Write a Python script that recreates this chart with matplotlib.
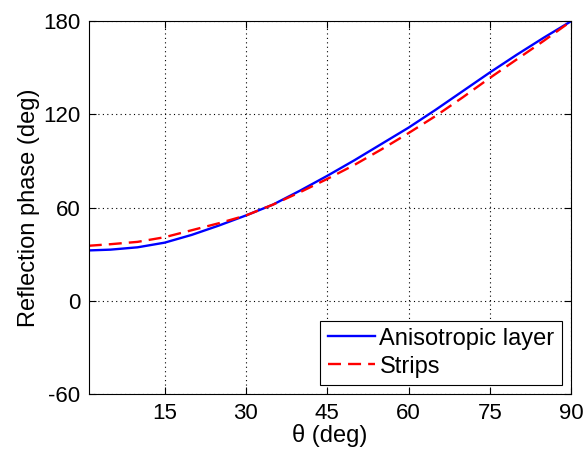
import matplotlib
matplotlib.use("Agg")
import matplotlib.pyplot as plt

theta = [1, 5, 10, 15, 20, 25, 30, 35, 40, 45, 50, 55, 60, 65, 70, 75, 80, 85, 90]
aniso = [32.5, 33.0, 34.5, 37.5, 42.5, 48.5, 55.0, 62.0, 71.0, 80.5, 90.5, 101.0,
         111.5, 123.0, 135.0, 147.0, 158.5, 169.5, 180.0]
strips = [35.5, 36.5, 38.0, 41.0, 45.5, 50.0, 55.0, 62.0, 70.0, 78.5, 87.5, 97.5,
          108.0, 119.0, 131.0, 143.5, 155.5, 167.5, 180.0]
xticks = [15, 30, 45, 60, 75, 90]
yticks = [-60, 0, 60, 120, 180]

plt.rcParams['font.family'] = ['Liberation Sans', 'DejaVu Sans']
plt.rcParams['axes.unicode_minus'] = False

fig = plt.figure(figsize=(5.84, 4.51), dpi=100)
ax = fig.add_axes([0.152, 0.126, 0.826, 0.827])

ax.plot(theta, aniso, color='#0000ff', lw=1.7, label='Anisotropic layer')
ax.plot(theta, strips, color='#ff0000', lw=1.7, ls=(0, (5.5, 3)), label='Strips')

ax.set_xlim(1, 90)
ax.set_ylim(-60, 180)
ax.set_xticks(xticks)
ax.set_yticks(yticks)
ax.grid(True, color='black', ls=(0, (1, 3)), lw=0.8)
ax.tick_params(direction='in', top=True, right=True, labelsize=16, length=5, width=0.8, pad=6)
for s in ax.spines.values():
    s.set_linewidth(0.8)
    s.set_color('black')

ax.set_xlabel('θ (deg)', fontsize=17, labelpad=0)
ax.set_ylabel('Reflection phase (deg)', fontsize=17, labelpad=2)

leg = ax.legend(loc='lower right', fontsize=17, fancybox=False, framealpha=1,
                edgecolor='black', handlelength=2.0, borderaxespad=0.4,
                handletextpad=0.2, borderpad=0.3, labelspacing=0.25)
leg.get_frame().set_linewidth(0.8)

fig.savefig('out.png', dpi=100)
